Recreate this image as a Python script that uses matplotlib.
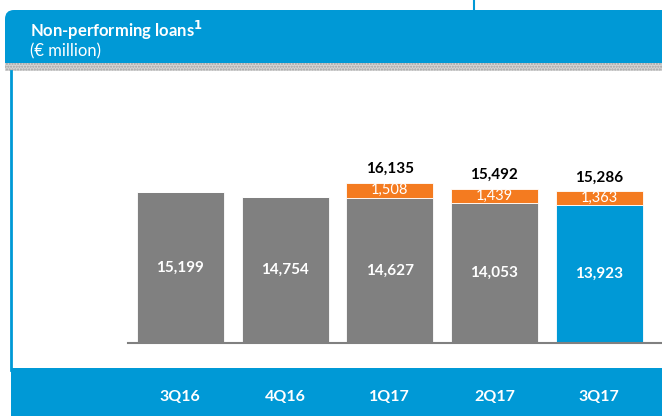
import numpy as np
import matplotlib
matplotlib.use("Agg")
import matplotlib.pyplot as plt
from matplotlib.patches import Rectangle, FancyBboxPatch

# data
quarters = ["3Q16", "4Q16", "1Q17", "2Q17", "3Q17"]
npl_base = [15199, 14754, 14627, 14053, 13923]
npl_extra = [0, 0, 1508, 1439, 1363]

BLUE = "#0099d6"
GREY = "#808080"
ORANGE = "#f47b20"
FONT = "Lato"

W, H = 662, 416
fig = plt.figure(figsize=(W / 100, H / 100), dpi=100)

# background frame drawn in pixel coords
bg = fig.add_axes([0, 0, 1, 1])
bg.set_xlim(0, W)
bg.set_ylim(H, 0)
bg.axis("off")

# little connector line at the top
bg.plot([474, 474], [0, 10], color=BLUE, lw=1.5)
# header band
bg.add_patch(FancyBboxPatch((5, 10), W + 20, 53, boxstyle="round,pad=0,rounding_size=9",
                            fc=BLUE, ec="none"))
bg.add_patch(Rectangle((5, 40), W, 23, fc=BLUE, ec="none"))
# dotted shadow below the header
bg.add_patch(Rectangle((5, 63), W, 8, fc="#d6d6d6", ec="#a0a0a0", hatch="......", lw=0))
# left border
bg.plot([11, 11], [71, 370], color=BLUE, lw=2)
# footer band
bg.add_patch(Rectangle((11, 368), W, 50, fc=BLUE, ec="none"))

bg.text(30, 30, "Non-performing loans$^{\\mathbf{1}}$", color="white", fontsize=12,
        fontweight="bold", family=FONT, va="center")
bg.text(30, 51, "(€ million)", color="white", fontsize=12, family=FONT, va="center")

# chart
ax_l, ax_r, ax_b, ax_t = 128, 662, 343, 70
ax = fig.add_axes([ax_l / W, 1 - ax_b / H, (ax_r - ax_l) / W, (ax_b - ax_t) / H])
ax.patch.set_alpha(0)
x = np.arange(len(quarters))
colors = [GREY] * 4 + [BLUE]
ax.bar(x, npl_base, width=0.83, color=colors, edgecolor="white", linewidth=0.6)
ax.bar(x, npl_extra, bottom=npl_base, width=0.83, color=ORANGE, edgecolor="white", linewidth=0.6)
ax.set_xlim(-0.5, 4.6)
ax.set_ylim(0, 27500)
for s in ["top", "right", "left"]:
    ax.spines[s].set_visible(False)
ax.spines["bottom"].set_color(GREY)
ax.spines["bottom"].set_linewidth(1.5)
ax.set_yticks([])
ax.set_xticks([])

for i in range(len(quarters)):
    ax.text(x[i], npl_base[i] / 2, f"{npl_base[i]:,}", color="white", fontsize=11,
            fontweight="bold", family=FONT, ha="center", va="center")
    if npl_extra[i]:
        ax.text(x[i], npl_base[i] + npl_extra[i] / 2, f"{npl_extra[i]:,}", color="white",
                fontsize=10.5, family=FONT, ha="center", va="center")
        tot = npl_base[i] + npl_extra[i]
        ax.text(x[i], tot + 700, f"{tot:,}", color="black", fontsize=11,
                fontweight="bold", family=FONT, ha="center", va="bottom")
    # quarter labels in the footer band
    xp = ax_l + (x[i] + 0.5) / 5.1 * (ax_r - ax_l)
    bg.text(xp, 397, quarters[i], color="white", fontsize=11.5, fontweight="bold",
            family=FONT, ha="center", va="center")

fig.savefig("out.png", dpi=100)
